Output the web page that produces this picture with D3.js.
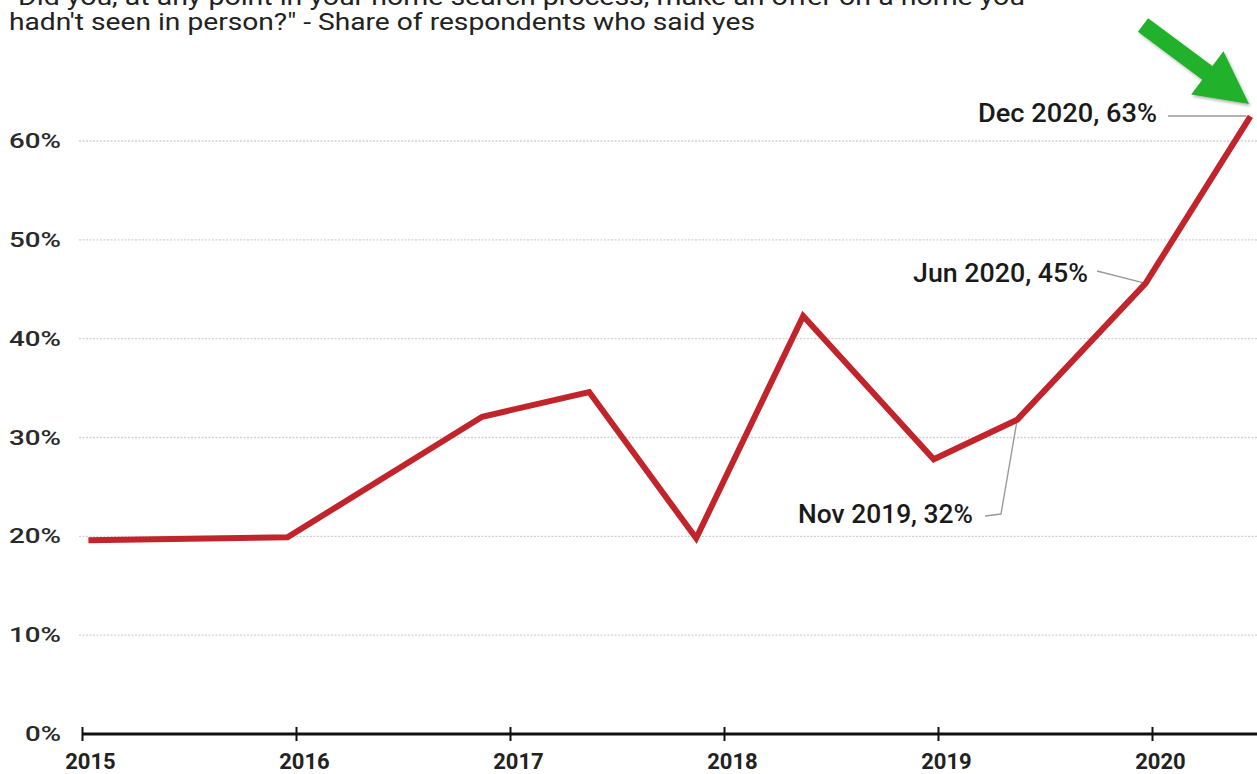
<!DOCTYPE html>
<html lang="en">
<head>
<meta charset="UTF-8">
<title>Offer on a home not seen in person</title>
<script src="https://d3js.org/d3.v7.min.js"></script>
<style>
  html, body { margin: 0; padding: 0; background: #fff; }
  svg { display: block; }
</style>
</head>
<body>
<svg id="chart" width="1257" height="774"></svg>
<script>
// survey dates as decimal years
const dates = [2015.03, 2015.96, 2016.87, 2017.37, 2017.87, 2018.37, 2018.98, 2019.37, 2019.97, 2020.46];
const shares = [19.6, 19.9, 32.1, 34.6, 19.8, 42.3, 27.8, 31.8, 45.6, 62.5];
const yearTicks = [2015, 2016, 2017, 2018, 2019, 2020];
const pctTicks = [0, 10, 20, 30, 40, 50, 60];
const titleLines = [
  "\"Did you, at any point in your home search process, make an offer on a home you",
  "hadn't seen in person?\" - Share of respondents who said yes"
];
const notes = [
  {i: 9, text: "Dec 2020, 63%"},
  {i: 8, text: "Jun 2020, 45%"},
  {i: 7, text: "Nov 2019, 32%"}
];

const svg = d3.select("#chart");
const W = 1257;

const x = d3.scaleLinear().domain([2015, 2020]).range([82, 1152]);
const y = d3.scaleLinear().domain([0, 60]).range([734, 141]);

// title (first line runs off the top of the image, as in the source)
svg.selectAll(".title")
  .data(titleLines)
  .enter().append("text")
    .attr("x", 9)
    .attr("y", (d, i) => 5 + i * 25)
    .attr("font-family", "Roboto, 'Liberation Sans', sans-serif")
    .attr("font-size", 24)
    .attr("fill", "#222")
    .attr("textLength", (d, i) => i === 0 ? 1016 : 746)
    .attr("lengthAdjust", "spacingAndGlyphs")
    .text(d => d);

// grid lines
svg.append("g")
  .selectAll("line")
  .data(pctTicks.filter(d => d > 0))
  .enter().append("line")
    .attr("x1", 79).attr("x2", W)
    .attr("y1", d => y(d)).attr("y2", d => y(d))
    .attr("stroke", "#d2d2d2")
    .attr("stroke-width", 1.3)
    .attr("stroke-dasharray", "2,1.5");

// y labels
svg.append("g")
  .selectAll("text")
  .data(pctTicks)
  .enter().append("text")
    .attr("x", 61)
    .attr("y", d => y(d) + 7)
    .attr("text-anchor", "end")
    .attr("font-family", "Roboto, sans-serif")
    .attr("font-weight", 500)
    .attr("font-size", 21)
    .attr("fill", "#2a2a2a")
    .attr("textLength", d => d === 0 ? 36 : 52)
    .attr("lengthAdjust", "spacingAndGlyphs")
    .text(d => d + "%");

// x axis
const xAxis = svg.append("g")
  .attr("transform", `translate(0,${y(0)})`)
  .call(d3.axisBottom(x).tickValues(yearTicks).tickFormat(d3.format("d")).tickSize(8).tickPadding(0));
xAxis.select(".domain").remove();
xAxis.append("line")
  .attr("x1", x(2015)).attr("x2", W)
  .attr("stroke", "#111").attr("stroke-width", 2.8);
xAxis.selectAll(".tick line")
  .attr("y1", -7).attr("y2", 7)
  .attr("stroke", "#111").attr("stroke-width", 2);
xAxis.selectAll(".tick text")
  .attr("dy", null)
  .attr("x", 8)
  .attr("y", 35)
  .attr("font-family", "Roboto, sans-serif")
  .attr("font-weight", 700)
  .attr("font-size", 22)
  .attr("fill", "#222");

// leader lines for the annotations
const pt = i => [x(dates[i]), y(shares[i])];
const leaders = [
  [[1168, 116], [pt(9)[0] - 4, 116]],
  [[1097, 271], pt(8)],
  [[985, 516], [1001, 514], pt(7)]
];
svg.append("g")
  .selectAll("path")
  .data(leaders)
  .enter().append("path")
    .attr("d", d => d3.line()(d))
    .attr("fill", "none")
    .attr("stroke", "#9a9a9a")
    .attr("stroke-width", 1.4);

// main line
svg.append("path")
  .datum(dates.map((d, i) => [d, shares[i]]))
  .attr("fill", "none")
  .attr("stroke", "#c1242b")
  .attr("stroke-width", 6)
  .attr("stroke-linejoin", "miter")
  .attr("d", d3.line().x(d => x(d[0])).y(d => y(d[1])));

// annotation labels
const notePos = {9: [1157, 122], 8: [1088, 282], 7: [973, 523]};
svg.append("g")
  .selectAll("text")
  .data(notes)
  .enter().append("text")
    .attr("x", d => notePos[d.i][0])
    .attr("y", d => notePos[d.i][1])
    .attr("text-anchor", "end")
    .attr("font-family", "Roboto, sans-serif")
    .attr("font-weight", 500)
    .attr("font-size", 26)
    .attr("fill", "#1a1a1a")
    .attr("textLength", d => d.i === 9 ? 179 : 175)
    .attr("lengthAdjust", "spacingAndGlyphs")
    .text(d => d.text);

// green arrow pointing at the last point
const tip = [1249, 104], start = [1143, 25];
const len = Math.hypot(tip[0] - start[0], tip[1] - start[1]);
const u = [(tip[0] - start[0]) / len, (tip[1] - start[1]) / len];
const n = [u[1], -u[0]];
const base = [tip[0] - 52 * u[0], tip[1] - 52 * u[1]];
const off = (p, k) => [p[0] + k * n[0], p[1] + k * n[1]];
const arrow = [off(start, 8.5), off(base, 8.5), off(base, 27), tip, off(base, -27), off(base, -8.5), off(start, -8.5)];
const defs = svg.append("defs");
const f = defs.append("filter").attr("id", "shadow").attr("x", "-20%").attr("y", "-20%").attr("width", "140%").attr("height", "140%");
f.append("feDropShadow").attr("dx", 1.5).attr("dy", 2).attr("stdDeviation", 1.5).attr("flood-color", "#000").attr("flood-opacity", 0.3);
svg.append("path")
  .attr("d", d3.line()(arrow) + "Z")
  .attr("fill", "#22b12a")
  .attr("filter", "url(#shadow)");
</script>
</body>
</html>
